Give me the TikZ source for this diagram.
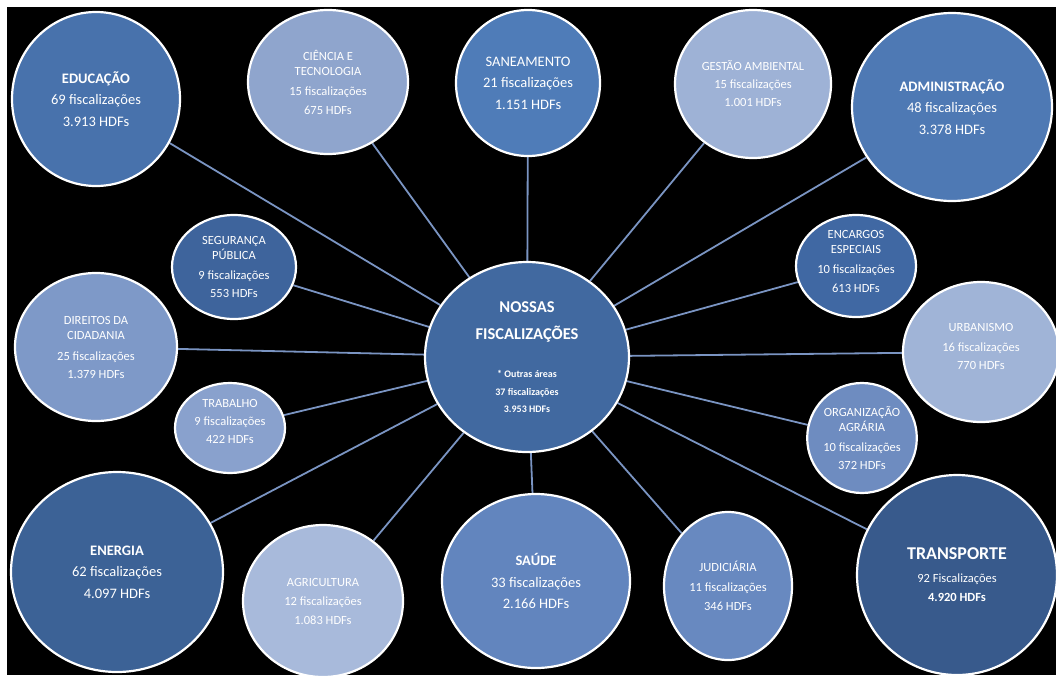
\documentclass[tikz,border=0pt]{standalone}
\usepackage{fontspec}
\setmainfont{Carlito}
\usetikzlibrary{shapes.geometric, backgrounds}

\definecolor{hubblue}{RGB}{65,105,160}
\definecolor{edublue}{RGB}{72,114,172}
\definecolor{cieblue}{RGB}{143,165,205}
\definecolor{sanblue}{RGB}{79,124,184}
\definecolor{gesblue}{RGB}{158,178,214}
\definecolor{admblue}{RGB}{78,121,180}
\definecolor{segblue}{RGB}{62,100,156}
\definecolor{encblue}{RGB}{64,104,163}
\definecolor{dirblue}{RGB}{126,153,200}
\definecolor{urbblue}{RGB}{160,180,215}
\definecolor{trablue}{RGB}{137,161,205}
\definecolor{orgblue}{RGB}{110,140,192}
\definecolor{eneblue}{RGB}{60,98,150}
\definecolor{agrblue}{RGB}{168,186,219}
\definecolor{saublue}{RGB}{98,133,190}
\definecolor{judblue}{RGB}{104,137,192}
\definecolor{trnblue}{RGB}{56,90,140}
\definecolor{spokeblue}{RGB}{122,148,194}

\newcommand{\hubsub}[1]{{\fontsize{10}{18}\selectfont #1}}

\begin{document}
\begin{tikzpicture}[x=1pt, y=-1pt,
  bubble/.style={ellipse, draw=white, line width=2.2pt, text=white, align=center, inner sep=0pt},
  bigtxt/.style={font=\fontsize{14.5}{21.5}\selectfont},
  smalltxt/.style={font=\fontsize{12.5}{15}\selectfont},
  spoke/.style={draw=spokeblue, line width=1.8pt}]
\useasboundingbox (0,0) rectangle (1056,675);

\node[bubble, bigtxt, fill=edublue, minimum width=168pt, minimum height=174pt] (edu) at (96,99) {\textbf{EDUCAÇÃO}\\69 fiscalizações\\3.913 HDFs};
\node[bubble, smalltxt, fill=cieblue, minimum width=160pt, minimum height=144pt] (cie) at (328,82) {CIÊNCIA E\\TECNOLOGIA\\[5pt]15 fiscalizações\\[4pt]675 HDFs};
\node[bubble, bigtxt, fill=sanblue, minimum width=144pt, minimum height=146pt] (san) at (528,83) {SANEAMENTO\\21 fiscalizações\\1.151 HDFs};
\node[bubble, smalltxt, fill=gesblue, minimum width=156pt, minimum height=148pt] (ges) at (753,84) {GESTÃO AMBIENTAL\\[3pt]15 fiscalizações\\[3pt]1.001 HDFs};
\node[bubble, bigtxt, fill=admblue, minimum width=200pt, minimum height=188pt] (adm) at (952,107) {\textbf{ADMINISTRAÇÃO}\\48 fiscalizações\\3.378 HDFs};
\node[bubble, smalltxt, fill=segblue, minimum width=124pt, minimum height=104pt] (seg) at (234,267) {SEGURANÇA\\PÚBLICA\\[5pt]9 fiscalizações\\[3pt]553 HDFs};
\node[bubble, smalltxt, fill=encblue, minimum width=120pt, minimum height=102pt, text depth=10pt] (enc) at (856,266) {ENCARGOS\\ESPECIAIS\\[5pt]10 fiscalizações\\[4pt]613 HDFs};
\node[bubble, smalltxt, fill=dirblue, minimum width=162pt, minimum height=148pt] (dir) at (96,347) {DIREITOS DA\\CIDADANIA\\[6pt]25 fiscalizações\\[3pt]1.379 HDFs};
\node[bubble, fill=hubblue, minimum width=204pt, minimum height=190pt, font=\bfseries\fontsize{16.5}{27}\selectfont] (hub) at (527,357) {NOSSAS\\FISCALIZAÇÕES\\[11pt]\hubsub{* Outras áreas}\\[-9pt]\hubsub{37 fiscalizações}\\[-10pt]\hubsub{3.953 HDFs}};
\node[bubble, smalltxt, fill=urbblue, minimum width=156pt, minimum height=140pt, text depth=12pt] (urb) at (981,352) {URBANISMO\\[5pt]16 fiscalizações\\[3pt]770 HDFs};
\node[bubble, smalltxt, fill=trablue, minimum width=110pt, minimum height=90pt, text depth=14pt] (tra) at (230,428) {TRABALHO\\[3pt]9 fiscalizações\\[3pt]422 HDFs};
\node[bubble, smalltxt, fill=orgblue, minimum width=108pt, minimum height=110pt] (org) at (862,438) {ORGANIZAÇÃO\\AGRÁRIA\\[5pt]10 fiscalizações\\[3pt]372 HDFs};
\node[bubble, bigtxt, fill=eneblue, minimum width=212pt, minimum height=200pt] (ene) at (117,572) {\textbf{ENERGIA}\\62 fiscalizações\\4.097 HDFs};
\node[bubble, smalltxt, fill=agrblue, minimum width=160pt, minimum height=152pt] (agr) at (323,601) {AGRICULTURA\\[4pt]12 fiscalizações\\[4pt]1.083 HDFs};
\node[bubble, bigtxt, fill=saublue, minimum width=188pt, minimum height=174pt] (sau) at (536,581) {\textbf{SAÚDE}\\33 fiscalizações\\2.166 HDFs};
\node[bubble, smalltxt, fill=judblue, minimum width=128pt, minimum height=148pt] (jud) at (728,586) {JUDICIÁRIA\\[5pt]11 fiscalizações\\[4pt]346 HDFs};
\node[bubble, fill=trnblue, minimum width=200pt, minimum height=200pt, font=\fontsize{12.5}{19}\selectfont] (trn) at (957,575) {{\fontsize{18}{19}\selectfont\textbf{TRANSPORTE}}\\[4pt]92 Fiscalizações\\\textbf{4.920 HDFs}};

\begin{scope}[on background layer]
\fill[white] (0,0) rectangle (1056,675);
\fill[black] (7,7) rectangle (1056,675);
\draw[spoke] (hub) -- (edu);
\draw[spoke] (hub) -- (cie);
\draw[spoke] (hub) -- (san);
\draw[spoke] (hub) -- (ges);
\draw[spoke] (hub) -- (adm);
\draw[spoke] (hub) -- (seg);
\draw[spoke] (hub) -- (enc);
\draw[spoke] (hub) -- (dir);
\draw[spoke] (hub) -- (urb);
\draw[spoke] (hub) -- (tra);
\draw[spoke] (hub) -- (org);
\draw[spoke] (hub) -- (ene);
\draw[spoke] (hub) -- (agr);
\draw[spoke] (hub) -- (sau);
\draw[spoke] (hub) -- (jud);
\draw[spoke] (hub) -- (trn);
\end{scope}
\end{tikzpicture}
\end{document}
